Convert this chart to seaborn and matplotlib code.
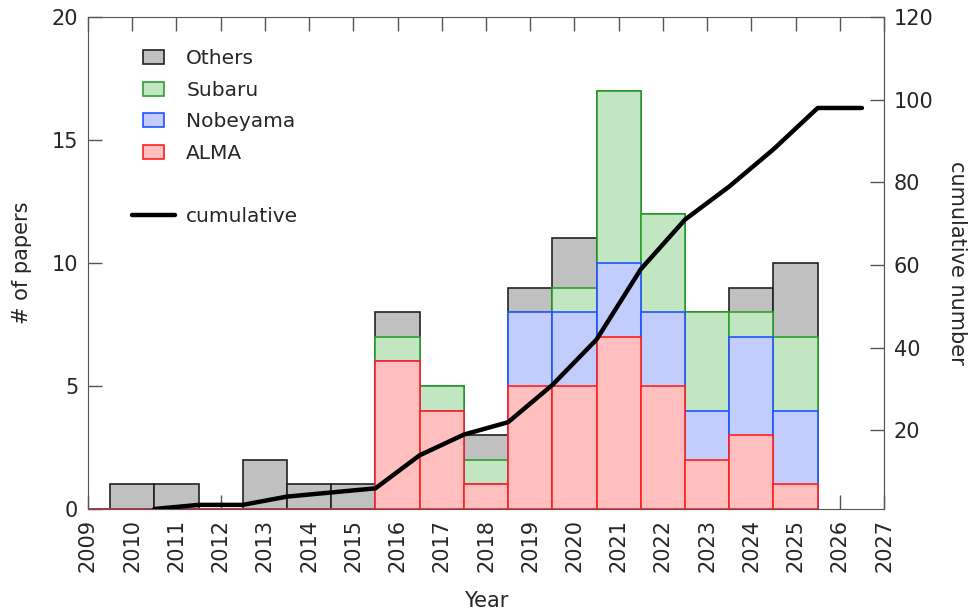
import numpy as np
import pandas as pd
import seaborn as sns
import matplotlib.pyplot as plt
from matplotlib.patches import Patch, Rectangle
from matplotlib.lines import Line2D
from matplotlib.legend_handler import HandlerPatch

# papers per year and facility
years = np.array([2009, 2010, 2011, 2012, 2013, 2014, 2015, 2016, 2017,
                  2018, 2019, 2020, 2021, 2022, 2023, 2024, 2025])
alma     = np.array([0, 0, 0, 0, 0, 0, 0, 6, 4, 1, 5, 5, 7, 5, 2, 3, 1])
nobeyama = np.array([0, 0, 0, 0, 0, 0, 0, 0, 0, 0, 3, 3, 3, 3, 2, 4, 3])
subaru   = np.array([0, 0, 0, 0, 0, 0, 0, 1, 1, 1, 0, 1, 7, 4, 4, 1, 3])
others   = np.array([0, 1, 1, 0, 2, 1, 1, 1, 0, 1, 1, 2, 0, 0, 0, 1, 3])

# cumulative number (at the end of each year bin)
cum_years = np.array([2010, 2011, 2012, 2013, 2014, 2015, 2016, 2017, 2018,
                      2019, 2020, 2021, 2022, 2023, 2024, 2025, 2026])
cum_papers = np.array([1, 2, 2, 4, 5, 6, 14, 19, 22, 31, 42, 59, 71, 79, 88, 98, 98])

sns.set_style("ticks")
plt.rcParams['font.family'] = ['DejaVu Sans']

fig, ax = plt.subplots(figsize=(9.69, 6.14), dpi=100)
fig.subplots_adjust(left=0.0908, right=0.9123, top=0.9723, bottom=0.171)

#
# overlapping histograms, drawn back to front
#
layers = [
    ('Others',   alma + nobeyama + subaru + others, '#c0c0c0', '#222222'),
    ('Subaru',   alma + nobeyama + subaru,          '#c2e5c2', '#2ca02c'),
    ('Nobeyama', alma + nobeyama,                   '#c2ccfd', '#1f55ff'),
    ('ALMA',     alma,                              '#ffbfbf', '#ff2020'),
]
for name, heights, face, edge in layers:
    df = pd.DataFrame({'year': years, 'n': heights})
    sns.histplot(data=df, x='year', weights='n', discrete=True, ax=ax,
                 facecolor=face, edgecolor=edge, linewidth=1.2)

ax.set_xlim(2009, 2027)
ax.set_ylim(0, 20)
ax.set_xticks(np.arange(2009, 2028))
ax.set_xticklabels([str(y) for y in range(2009, 2028)], rotation=90)
ax.set_yticks([0, 5, 10, 15, 20])
ax.set_axisbelow(True)
ax.tick_params(direction='in', length=10, width=1, color='#555555',
               top=True, right=False, labelsize=15, pad=7)
ax.set_xlabel('Year', fontsize=15, labelpad=14)
ax.set_ylabel('# of papers', fontsize=15, labelpad=14)
for s in ax.spines.values():
    s.set_color('#555555')
    s.set_zorder(0.5)

#
# cumulative line on the right axis
#
ax2 = ax.twinx()
sns.lineplot(x=cum_years + 0.5, y=cum_papers, ax=ax2, color='black', linewidth=3.2)
ax2.set_ylim(1, 120)
ax2.set_yticks([20, 40, 60, 80, 100, 120])
ax2.tick_params(direction='in', length=10, width=1, color='#555555',
                labelsize=15, pad=7)
ax2.set_ylabel('cumulative number', fontsize=15, rotation=270, labelpad=24)
for k in ['left', 'top', 'bottom']:
    ax2.spines[k].set_visible(False)
ax2.spines['right'].set_color('#555555')


def small_box(legend, orig_handle, xdescent, ydescent, width, height, fontsize):
    return Rectangle((-xdescent + width * 0.25, -ydescent), width * 0.5, height)


handles = [Patch(facecolor=f, edgecolor=e, linewidth=1.2) for _, _, f, e in layers]
labels = [n for n, _, _, _ in layers]
handles.append(Line2D([], [], color='none'))
labels.append('')
handles.append(Line2D([], [], color='black', linewidth=3.2))
labels.append('cumulative')
ax2.legend(handles, labels, loc='upper left', bbox_to_anchor=(0.055, 0.934),
           frameon=False, fontsize=14.5, handlelength=2.15, handletextpad=0.55,
           labelspacing=0.62, borderpad=0, borderaxespad=0,
           handler_map={Patch: HandlerPatch(patch_func=small_box)})

plt.savefig('out.png', dpi=100)
